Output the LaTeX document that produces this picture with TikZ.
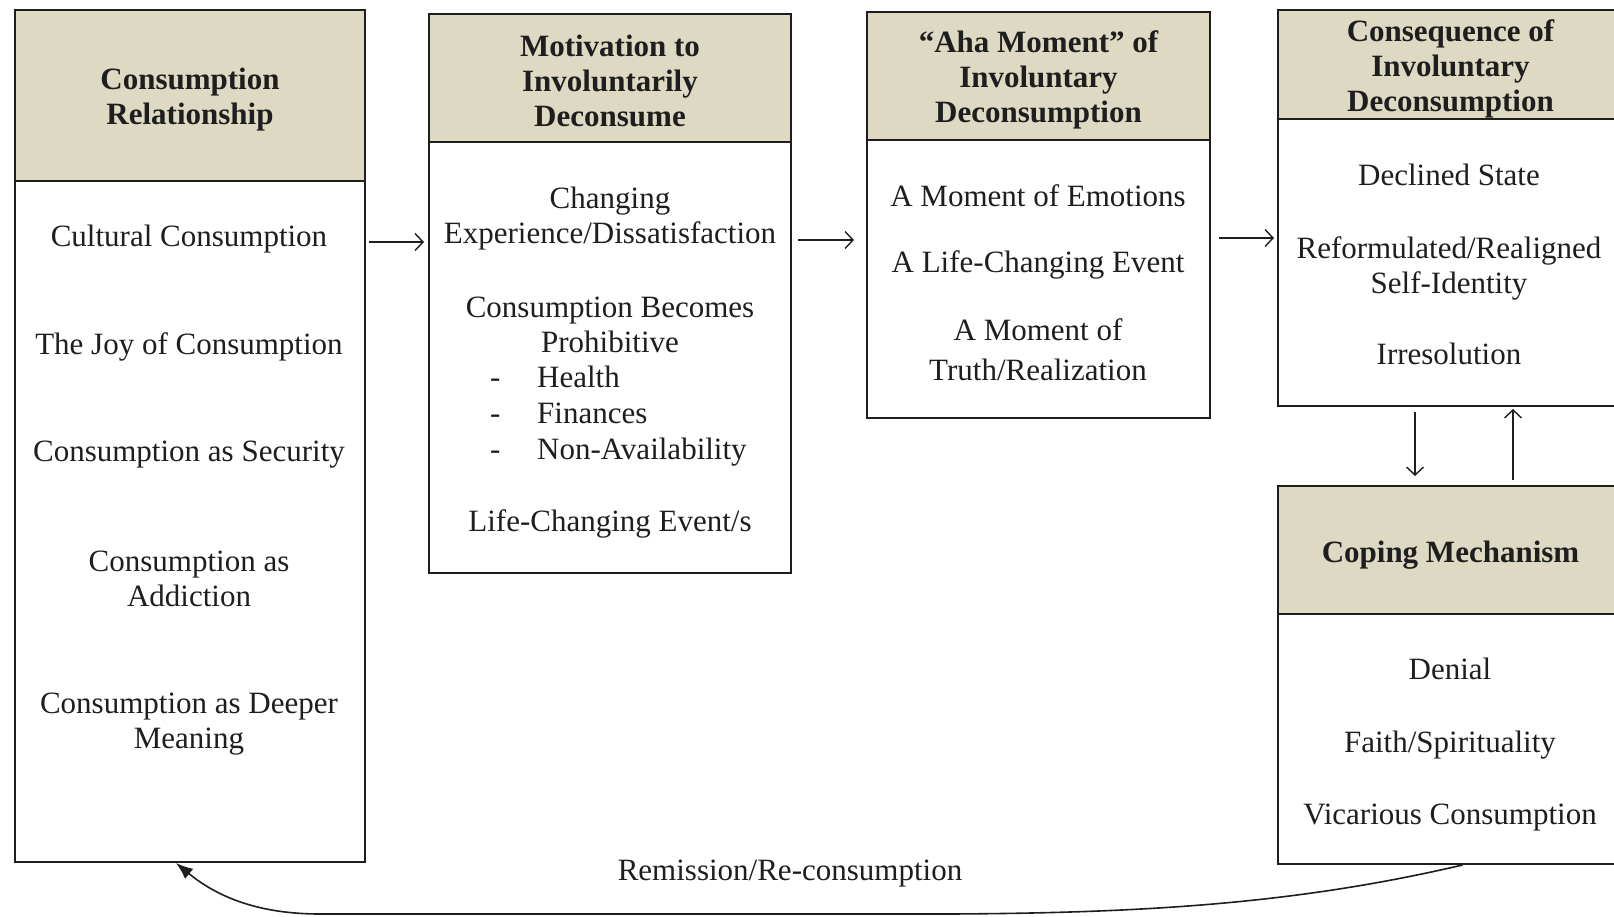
\documentclass[tikz,border=0pt]{standalone}
\usepackage{fontspec}
\setmainfont{Liberation Serif}
\usetikzlibrary{arrows.meta}
\definecolor{hdrtan}{RGB}{221,217,195}
\definecolor{ink}{RGB}{30,30,30}
\begin{document}
\begin{tikzpicture}[x=1pt,y=-1pt,
  every node/.style={font=\fontsize{31}{35}\selectfont, text=ink},
  hdr/.style={draw=ink, line width=2pt, fill=hdrtan, anchor=north west, inner sep=0pt},
  hdrtxt/.style={align=center, inner sep=0pt, font=\fontsize{31}{35}\selectfont\bfseries},
  bodybox/.style={draw=ink, line width=2pt, anchor=north west, inner sep=0pt, fill=white},
  txt/.style={align=center, inner sep=0pt},
  flow/.style={draw=ink, line width=1.4pt,
    -{Straight Barb[length=8pt,width=17pt,line width=1.4pt]}},
  backloop/.style={draw=ink, line width=1.6pt, -{Latex[length=17pt,width=13pt]}}
]
\useasboundingbox (0,0) rectangle (1614,917);
\clip (0,0) rectangle (1614,917);
\fill[white] (0,0) rectangle (1614,917);

% column 1
\node[bodybox, minimum width=350pt, minimum height=681pt] (b1body) at (14,180) {};
\node[hdr, minimum width=350pt, minimum height=171pt] (b1head) at (14,9) {};
\node[hdrtxt] (h1) at ([yshift=-4pt]b1head.center) {Consumption\\Relationship};
\node[txt] (t11) at (189,239) {Cultural Consumption};
\node[txt] (t12) at (189,347) {The Joy of Consumption};
\node[txt] (t13) at (189,455) {Consumption as Security};
\node[txt] (t14) at (189,579) {Consumption as\\Addiction};
\node[txt] (t15) at (189,724) {Consumption as Deeper\\Meaning};

% column 2
\node[bodybox, minimum width=362pt, minimum height=431pt] (b2body) at (428,141) {};
\node[hdr, minimum width=362pt, minimum height=128pt] (b2head) at (428,13) {};
\node[hdrtxt] (h2) at ([yshift=-3pt]b2head.center) {Motivation to\\Involuntarily\\Deconsume};
\node[txt] (t21) at (610,219) {Changing\\Experience/Dissatisfaction};
\node[txt] (t22) at (610,325) {Consumption Becomes\\Prohibitive};
\node[txt, align=left, anchor=west, font=\fontsize{31}{36}\selectfont] (t23) at (490,416)
  {\makebox[47pt][l]{-}Health\\\makebox[47pt][l]{-}Finances\\\makebox[47pt][l]{-}Non-Availability};
\node[txt] (t24) at (610,524) {Life-Changing Event/s};

% column 3
\node[bodybox, minimum width=343pt, minimum height=278pt] (b3body) at (866,139) {};
\node[hdr, minimum width=343pt, minimum height=128pt] (b3head) at (866,11) {};
\node[hdrtxt] (h3) at ([yshift=-4pt]b3head.center) {``Aha Moment'' of\\Involuntary\\Deconsumption};
\node[txt] (t31) at (1038,196) {A Moment of Emotions};
\node[txt] (t32) at (1038,265) {A Life-Changing Event};
\node[txt, font=\fontsize{31}{40}\selectfont] (t33) at (1038,350) {A Moment of\\Truth/Realization};

% column 4, upper
\node[bodybox, minimum width=345pt, minimum height=287pt] (b4body) at (1277,118) {};
\node[hdr, minimum width=345pt, minimum height=109pt] (b4head) at (1277,9) {};
\node[hdrtxt] (h4) at ([yshift=-4pt]b4head.center) {Consequence of\\Involuntary\\Deconsumption};
\node[txt] (t41) at (1449,175) {Declined State};
\node[txt] (t42) at (1449,268) {Reformulated/Realigned\\Self-Identity};
\node[txt] (t43) at (1449,354) {Irresolution};

% column 4, lower
\node[bodybox, minimum width=345pt, minimum height=250pt] (b5body) at (1277,613) {};
\node[hdr, minimum width=345pt, minimum height=128pt] (b5head) at (1277,485) {};
\node[hdrtxt] (h5) at ([yshift=-5pt]b5head.center) {Coping Mechanism};
\node[txt] (t51) at (1450,669) {Denial};
\node[txt] (t52) at (1450,745) {Faith/Spirituality};
\node[txt] (t53) at (1450,818) {Vicarious Consumption};

% forward flow
\coordinate (r1) at (0,242);
\coordinate (r2) at (0,240);
\coordinate (r3) at (0,238);
\draw[flow, shorten <=3pt, shorten >=4pt] (b1body.east |- r1) -- (b2body.west |- r1);
\draw[flow, shorten <=6pt, shorten >=12pt] (b2body.east |- r2) -- (b3body.west |- r2);
\draw[flow, shorten <=8pt, shorten >=3pt] (b3body.east |- r3) -- (b4body.west |- r3);

% exchange between consequence and coping
\coordinate (cd) at (1415,0);
\coordinate (cu) at (1513,0);
\draw[flow, shorten <=5pt, shorten >=9pt] (b4body.south -| cd) -- (b5head.north -| cd);
\draw[flow, shorten <=5pt, shorten >=2pt] (b5head.north -| cu) -- (b4body.south -| cu);

% return path
\draw[backloop] ([xshift=12pt]b5body.south) .. controls (1300,903) and (1150,913) .. (950,914)
  -- (320,914) .. controls (255,914) and (215,895) .. ([xshift=-14pt]b1body.south);
\node[txt] (lbl) at (790,874) {Remission/Re-consumption};
\end{tikzpicture}
\end{document}
